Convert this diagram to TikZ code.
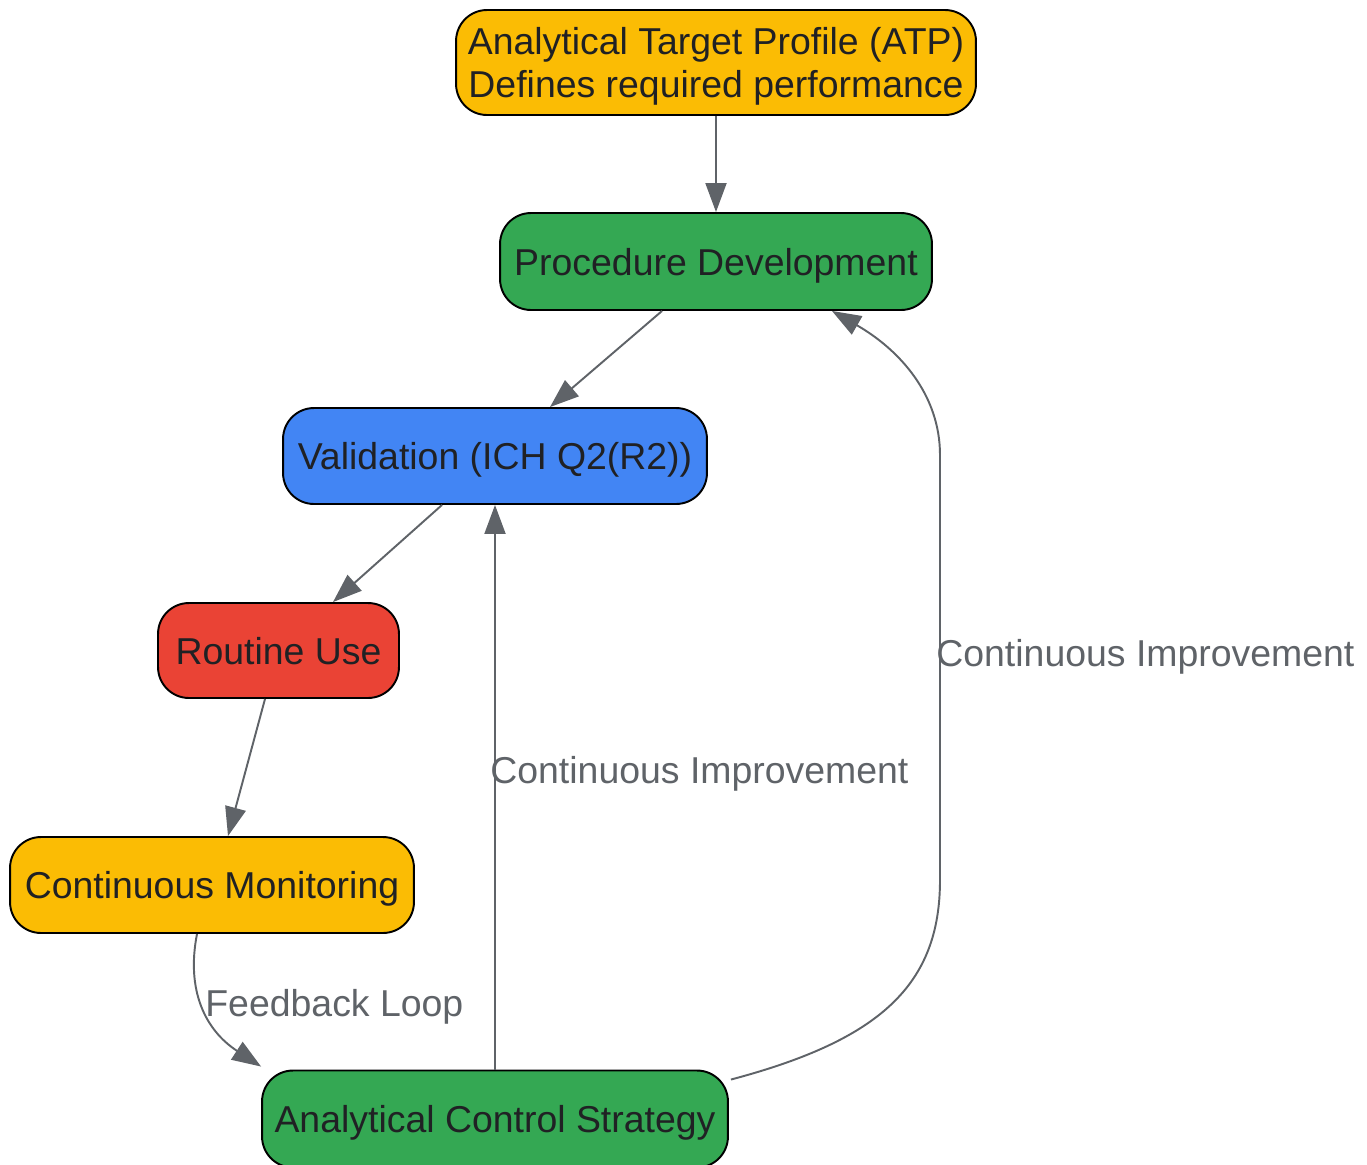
\documentclass[tikz,border=0pt]{standalone}
\usepackage{fontspec}
\setmainfont{Liberation Sans}
\usetikzlibrary{shapes,arrows.meta}
\definecolor{gyel}{HTML}{FBBC04}
\definecolor{ggrn}{HTML}{34A853}
\definecolor{gblu}{HTML}{4285F4}
\definecolor{gred}{HTML}{EA4335}
\definecolor{gtxt}{HTML}{202124}
\definecolor{gedg}{HTML}{5F6368}
\tikzstyle{nd}=[rectangle,rounded corners=0.62cm,draw=black,line width=1.1pt,text=gtxt,font=\fontsize{21.3}{24}\selectfont,align=center,inner sep=1pt]
\tikzstyle{one}=[text height=0.54cm,text depth=0cm]
\tikzstyle{ar}=[draw=gedg,line width=1.1pt,-{Triangle[length=0.58cm,width=0.42cm]}]
\tikzstyle{lb}=[text=gedg,font=\fontsize{21.3}{24}\selectfont,inner sep=0pt]

\begin{document}
\begin{tikzpicture}[x=0.02cm,y=-0.02cm]
\useasboundingbox (0,0) rectangle (1367,1164);
\node[nd,text height=1.54cm,fill=gyel,minimum width=10.4cm,minimum height=2.1cm] (atp) at (716,62.5) {Analytical Target Profile (ATP)\\Defines required performance};
\node[nd,one,fill=ggrn,minimum width=8.64cm,minimum height=1.94cm] (pd) at (716,261.5) {Procedure Development};
\node[nd,one,fill=gblu,minimum width=8.48cm,minimum height=1.92cm] (val) at (495,456) {Validation (ICH Q2(R2))};
\node[nd,one,fill=gred,minimum width=4.82cm,minimum height=1.9cm] (ru) at (278.5,650.5) {Routine Use};
\node[nd,one,fill=gyel,minimum width=8.08cm,minimum height=1.92cm] (cm) at (212,885) {Continuous Monitoring};
\node[nd,one,fill=ggrn,minimum width=9.32cm,minimum height=1.94cm] (acs) at (495,1119) {Analytical Control Strategy};
% main chain
\draw[ar] (atp.south) -- (pd.north);
\draw[ar] ([xshift=-1.08cm]pd.south) -- ([xshift=1.1cm]val.north);
\draw[ar] ([xshift=-1.06cm]val.south) -- ([xshift=1.09cm]ru.north);
\draw[ar] ([xshift=-0.27cm]ru.south) -- ([xshift=0.32cm]cm.north);
% loops back
\draw[ar] ([xshift=-0.3cm]cm.south) .. controls (186,990) and (205,1030) .. ([yshift=0.06cm]acs.north west);
\node[lb,anchor=west] (fbl) at (205,1007) {Feedback Loop};
\draw[ar] (acs.north) -- (val.south);
\node[lb,anchor=west] (ci1) at (490,774) {Continuous Improvement};
\draw[ar] ([xshift=0.04cm,yshift=-0.2cm]acs.north east) .. controls (880,1040) and (940,985) .. (940,880) -- (940,455) .. controls (940,395) and (900,350) .. ([xshift=2.32cm]pd.south);
\node[lb,anchor=west] (ci2) at (936,657) {Continuous Improvement};
\end{tikzpicture}
\end{document}
